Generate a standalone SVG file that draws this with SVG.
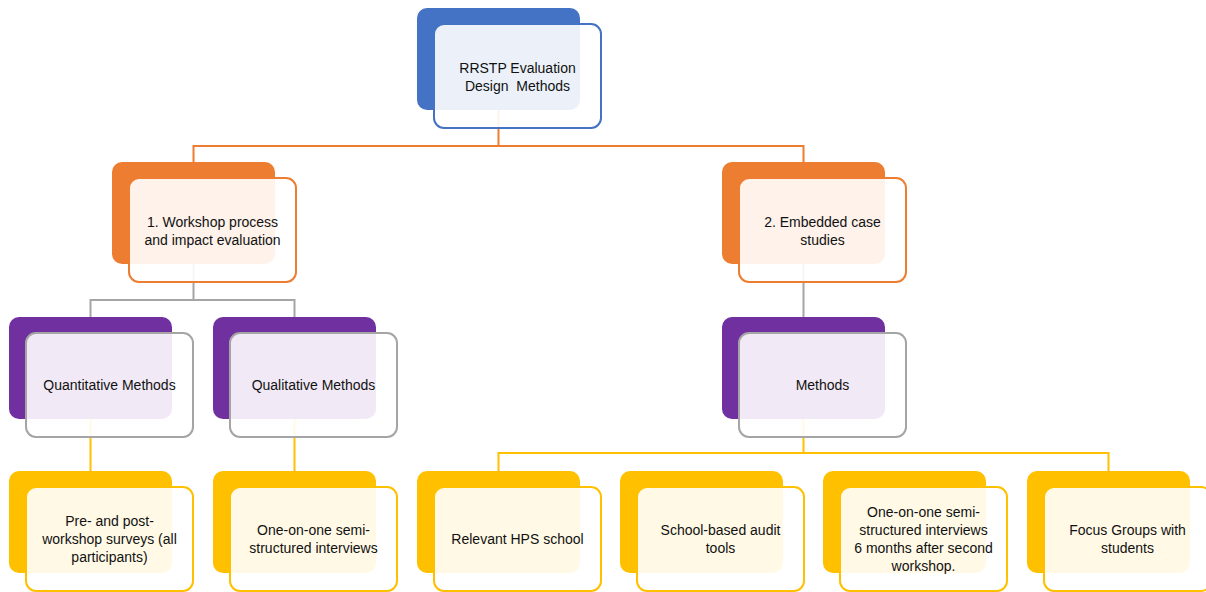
<svg xmlns="http://www.w3.org/2000/svg" width="1206" height="592" viewBox="0 0 1206 592">
<style>
.bg{fill:#ffffff}
.front{fill:#ffffff;fill-opacity:0.9;stroke-width:2}
.txt{font-family:"Liberation Sans",Arial,sans-serif;font-size:14px;fill:#111111;text-anchor:middle}
.conn{fill:none;stroke-width:2}
.blue{fill:#4472C4}.orange{fill:#ED7D31}.purple{fill:#7030A0}.yellow{fill:#FFC000}
.s-blue{stroke:#4472C4}.s-orange{stroke:#ED7D31}.s-grey{stroke:#A5A5A5}.s-yellow{stroke:#FFC000}
</style>
<rect class="bg" x="0" y="0" width="1206" height="592"/>
<g id="connectors">
<path class="conn s-orange" d="M498.5,110 V146 M193.5,162 V146 H803.5 V162"/>
<path class="conn s-grey" d="M193.5,264 V300 M90.5,317 V300 H294.5 V317 M803.5,264 V317"/>
<path class="conn s-yellow" d="M90.5,419 V471 M294.5,419 V471 M803.5,419 V453 M498.5,471 V453 H1108.5 V471"/>
</g>
<g id="node-root">
<rect class="blue" x="417" y="8" width="163" height="102" rx="10"/>
<rect class="front s-blue" x="434" y="24" width="167" height="104" rx="10"/>
<text class="txt" x="517.5" y="72.5">RRSTP Evaluation</text>
<text class="txt" x="517.5" y="90.5" xml:space="preserve">Design  Methods</text>
</g>
<g id="node-workshop">
<rect class="orange" x="112" y="162" width="163" height="102" rx="10"/>
<rect class="front s-orange" x="129" y="178" width="167" height="104" rx="10"/>
<text class="txt" x="212.5" y="226.5">1. Workshop process</text>
<text class="txt" x="212.5" y="244.5">and impact evaluation</text>
</g>
<g id="node-case">
<rect class="orange" x="722" y="162" width="163" height="102" rx="10"/>
<rect class="front s-orange" x="739" y="178" width="167" height="104" rx="10"/>
<text class="txt" x="822.5" y="226.5">2. Embedded case</text>
<text class="txt" x="822.5" y="244.5">studies</text>
</g>
<g id="node-quant">
<rect class="purple" x="9" y="317" width="163" height="102" rx="10"/>
<rect class="front s-grey" x="26" y="333" width="167" height="104" rx="10"/>
<text class="txt" x="109.5" y="390">Quantitative Methods</text>
</g>
<g id="node-qual">
<rect class="purple" x="213" y="317" width="163" height="102" rx="10"/>
<rect class="front s-grey" x="230" y="333" width="167" height="104" rx="10"/>
<text class="txt" x="313.5" y="390">Qualitative Methods</text>
</g>
<g id="node-methods">
<rect class="purple" x="722" y="317" width="163" height="102" rx="10"/>
<rect class="front s-grey" x="739" y="333" width="167" height="104" rx="10"/>
<text class="txt" x="822.5" y="390">Methods</text>
</g>
<g id="node-surveys">
<rect class="yellow" x="9" y="471" width="163" height="102" rx="10"/>
<rect class="front s-yellow" x="26" y="487" width="167" height="104" rx="10"/>
<text class="txt" x="109.5" y="526">Pre- and post-</text>
<text class="txt" x="109.5" y="544">workshop surveys (all</text>
<text class="txt" x="109.5" y="562">participants)</text>
</g>
<g id="node-interviews">
<rect class="yellow" x="213" y="471" width="163" height="102" rx="10"/>
<rect class="front s-yellow" x="230" y="487" width="167" height="104" rx="10"/>
<text class="txt" x="313.5" y="535">One-on-one semi-</text>
<text class="txt" x="313.5" y="553">structured interviews</text>
</g>
<g id="node-hps">
<rect class="yellow" x="417" y="471" width="163" height="102" rx="10"/>
<rect class="front s-yellow" x="434" y="487" width="167" height="104" rx="10"/>
<text class="txt" x="517.5" y="544">Relevant HPS school</text>
</g>
<g id="node-audit">
<rect class="yellow" x="620" y="471" width="163" height="102" rx="10"/>
<rect class="front s-yellow" x="637" y="487" width="167" height="104" rx="10"/>
<text class="txt" x="720.5" y="535">School-based audit</text>
<text class="txt" x="720.5" y="553">tools</text>
</g>
<g id="node-interviews6">
<rect class="yellow" x="823" y="471" width="163" height="102" rx="10"/>
<rect class="front s-yellow" x="840" y="487" width="167" height="104" rx="10"/>
<text class="txt" x="923.5" y="517">One-on-one semi-</text>
<text class="txt" x="923.5" y="535">structured interviews</text>
<text class="txt" x="923.5" y="553">6 months after second</text>
<text class="txt" x="923.5" y="571">workshop.</text>
</g>
<g id="node-focus">
<rect class="yellow" x="1027" y="471" width="163" height="102" rx="10"/>
<rect class="front s-yellow" x="1044" y="487" width="167" height="104" rx="10"/>
<text class="txt" x="1127.5" y="535">Focus Groups with</text>
<text class="txt" x="1127.5" y="553">students</text>
</g>
</svg>
